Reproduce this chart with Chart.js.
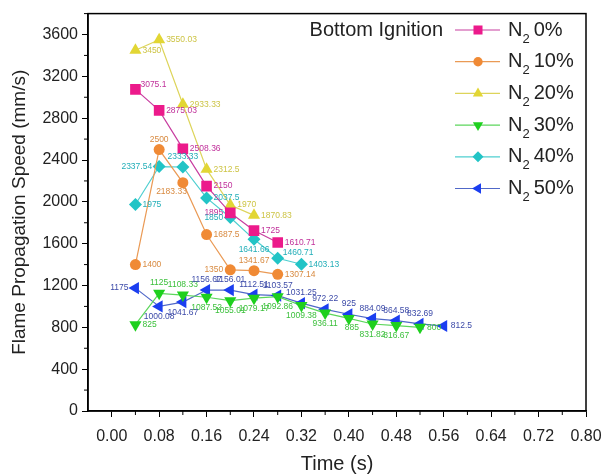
<!DOCTYPE html>
<html>
<head>
<meta charset="utf-8">
<script src="https://cdn.jsdelivr.net/npm/chart.js@4"></script>
<style>
    body { margin: 0; background: #fff; }
    canvas { display: block; }
</style>
</head>
<body>
<canvas id="flameChart" width="603" height="475"></canvas>
<script>
/* ============================================
   DATA
   ============================================ */
const times = [0.04, 0.08, 0.12, 0.16, 0.20, 0.24, 0.28, 0.32, 0.36, 0.40, 0.44, 0.48, 0.52, 0.56];

const seriesNames = ['0%', '10%', '20%', '30%', '40%', '50%'];

const n2_0  = [3075.1, 2875.03, 2508.36, 2150, 1895, 1725, 1610.71];
const n2_10 = [1400, 2500, 2183.33, 1687.5, 1350, 1341.67, 1307.14];
const n2_20 = [3450, 3550.03, 2933.33, 2312.5, 1970, 1870.83];
const n2_30 = [825, 1125, 1108.33, 1087.52, 1055.01, 1079.17, 1092.86, 1009.38, 936.11, 885, 831.82, 816.67, 800];
const n2_40 = [1975, 2337.54, 2333.33, 2037.5, 1850, 1641.66, 1460.71, 1403.13];
const n2_50 = [1175, 1000.08, 1041.67, 1156.67, 1156.01, 1112.51, 1103.57, 1031.25, 972.22, 925, 884.09, 864.58, 832.69, 812.5];

const xTicks = [0, 0.08, 0.16, 0.24, 0.32, 0.40, 0.48, 0.56, 0.64, 0.72, 0.80];
const yTicks = [0, 400, 800, 1200, 1600, 2000, 2400, 2800, 3200, 3600];

const FONT = "'Liberation Sans', Arial, sans-serif";

// pair each value with its time
function toPoints(values) {
    return values.map((v, i) => ({ x: times[i], y: v }));
}

/* ============================================
   PLUGINS
   ============================================ */

// value labels next to each point (side per point: r, l, t, b, ...)
const valueLabels = {
    id: 'valueLabels',
    afterDatasetsDraw(chart) {
        const ctx = chart.ctx;
        ctx.save();
        ctx.font = `8.5px ${FONT}`;
        chart.data.datasets.forEach((ds, di) => {
            const meta = chart.getDatasetMeta(di);
            ctx.fillStyle = ds.labelColor;
            meta.data.forEach((pt, i) => {
                const side = ds.labelSide[i] || 'r';
                const text = String(ds.data[i].y);
                let x = pt.x, y = pt.y;
                if (side === 'r') { ctx.textAlign = 'left'; ctx.textBaseline = 'middle'; x += 7; }
                else if (side === 'l') { ctx.textAlign = 'right'; ctx.textBaseline = 'middle'; x -= 7; }
                else if (side === 't') { ctx.textAlign = 'center'; ctx.textBaseline = 'bottom'; y -= 6; }
                else if (side === 'b') { ctx.textAlign = 'center'; ctx.textBaseline = 'top'; y += 6; }
                else if (side === 'br') { ctx.textAlign = 'left'; ctx.textBaseline = 'top'; x -= 4; y += 5; }
                else if (side === 'bl') { ctx.textAlign = 'right'; ctx.textBaseline = 'top'; x += 4; y += 5; }
                else if (side === 'tr') { ctx.textAlign = 'left'; ctx.textBaseline = 'bottom'; x += 5; y -= 1; }
                ctx.fillText(text, x, y);
            });
        });
        ctx.restore();
    }
};

// box frame, minor ticks and the legend
const frameAndLegend = {
    id: 'frameAndLegend',
    afterDraw(chart) {
        const ctx = chart.ctx;
        const { left, right, top, bottom } = chart.chartArea;
        const xs = chart.scales.x, ys = chart.scales.y;
        ctx.save();

        // frame
        ctx.strokeStyle = '#000';
        ctx.lineWidth = 1.5;
        ctx.strokeRect(left, top, right - left, bottom - top);

        // minor ticks
        ctx.lineWidth = 1;
        ctx.beginPath();
        for (let i = 0; i < xTicks.length - 1; i++) {
            const px = xs.getPixelForValue((xTicks[i] + xTicks[i + 1]) / 2);
            ctx.moveTo(px, bottom);
            ctx.lineTo(px, bottom + 4);
        }
        for (let i = 0; i < yTicks.length - 1; i++) {
            const py = ys.getPixelForValue((yTicks[i] + yTicks[i + 1]) / 2);
            ctx.moveTo(left, py);
            ctx.lineTo(left - 4, py);
        }
        const lastY = ys.getPixelForValue(yTicks[yTicks.length - 1] + 200);
        ctx.moveTo(left, lastY);
        ctx.lineTo(left - 4, lastY);
        ctx.stroke();

        // legend
        const rowH = 31.7;
        const y0 = 30;
        ctx.textBaseline = 'middle';
        ctx.fillStyle = '#222';
        ctx.font = `20px ${FONT}`;
        ctx.textAlign = 'right';
        ctx.fillText('Bottom Ignition', 443, y0);

        chart.data.datasets.forEach((ds, i) => {
            const y = y0 + rowH * i;
            ctx.strokeStyle = ds.borderColor;
            ctx.lineWidth = 1.2;
            ctx.beginPath();
            ctx.moveTo(455, y);
            ctx.lineTo(500, y);
            ctx.stroke();
            // smaller marker in the legend
            ctx.fillStyle = ds.pointBackgroundColor;
            ctx.strokeStyle = ds.pointBackgroundColor;
            Chart.helpers.drawPoint(ctx, {
                pointStyle: ds.pointStyle,
                rotation: ds.pointRotation || 0,
                radius: ds.pointRadius * 0.85,
                borderWidth: 0
            }, 478, y);
            ctx.fillStyle = '#222';
            ctx.textAlign = 'left';
            ctx.font = `20px ${FONT}`;
            ctx.fillText('N', 508, y);
            const nw = ctx.measureText('N').width;
            ctx.font = `13px ${FONT}`;
            ctx.fillText('2', 508 + nw, y + 9);
            const sw = ctx.measureText('2').width;
            ctx.font = `20px ${FONT}`;
            ctx.fillText(seriesNames[i], 508 + nw + sw + 4, y);
        });
        ctx.restore();
    }
};

/* ============================================
   CHART
   ============================================ */
function makeSeries(label, values, color, lineColor, labelColor, style, radius, rotation, labelSide) {
    return {
        label: label,
        data: toPoints(values),
        borderColor: lineColor,
        backgroundColor: color,
        pointBackgroundColor: color,
        pointBorderColor: color,
        pointBorderWidth: 0,
        pointStyle: style,
        pointRadius: radius,
        pointHoverRadius: radius,
        pointRotation: rotation,
        borderWidth: 1.2,
        labelColor: labelColor,
        labelSide: labelSide
    };
}

const datasets = [
    makeSeries('N2 0%', n2_0, '#ec1a8b', '#c83ea0', '#c0309a', 'rect', 7.5, 0,
        ['tr', 'r', 'r', 'r', 'l', 'r', 'r']),
    makeSeries('N2 10%', n2_10, '#f08a35', '#ea9a55', '#d88a40', 'circle', 5.5, 0,
        ['r', 't', 'bl', 'r', 'l', 't', 'r']),
    makeSeries('N2 20%', n2_20, '#e2d634', '#ddd45a', '#cdc445', 'triangle', 7, 0,
        ['r', 'r', 'r', 'r', 'r', 'r']),
    makeSeries('N2 30%', n2_30, '#1ed01e', '#5cd65c', '#3cc03c', 'triangle', 7, 180,
        ['r', 't', 't', 'b', 'b', 'b', 'b', 'b', 'b', 'br', 'b', 'b', 'r']),
    makeSeries('N2 40%', n2_40, '#22c4c6', '#4fcfd0', '#22aeb8', 'rectRot', 6.5, 0,
        ['r', 'l', 't', 'r', 'l', 'b', 'tr', 'r']),
    makeSeries('N2 50%', n2_50, '#1b3ef0', '#5068c8', '#3c4aa8', 'triangle', 7, 270,
        ['l', 'b', 'b', 't', 't', 't', 't', 't', 't', 't', 't', 't', 't', 'r'])
];

new Chart(document.getElementById('flameChart'), {
    type: 'line',
    data: { datasets: datasets },
    options: {
        responsive: false,
        animation: false,
        events: [],
        layout: { padding: { top: 10, right: 17, left: 0, bottom: 0 } },
        plugins: {
            legend: { display: false },
            tooltip: { enabled: false }
        },
        scales: {
            x: {
                type: 'linear',
                min: -0.04,
                max: 0.80,
                afterBuildTicks: scale => { scale.ticks = xTicks.map(v => ({ value: v })); },
                afterFit: scale => {
                    scale.height = 64;
                    scale.paddingLeft = 0;
                    scale.paddingRight = 0;
                },
                ticks: {
                    color: '#222',
                    font: { family: FONT, size: 16 },
                    padding: 10,
                    maxRotation: 0,
                    autoSkip: false,
                    callback: v => v.toFixed(2)
                },
                grid: { drawOnChartArea: false, drawTicks: true, tickLength: 6, color: '#000', lineWidth: 1 },
                border: { display: true, color: '#000', width: 1.5 },
                title: {
                    display: true,
                    text: 'Time (s)',
                    color: '#222',
                    font: { family: FONT, size: 20 },
                    padding: { top: 0, bottom: -1 }
                }
            },
            y: {
                type: 'linear',
                min: 0,
                max: 3800,
                afterBuildTicks: scale => { scale.ticks = yTicks.map(v => ({ value: v })); },
                afterFit: scale => { scale.width = 88; },
                ticks: {
                    color: '#222',
                    font: { family: FONT, size: 16 },
                    padding: 4,
                    autoSkip: false,
                    callback: v => String(v)
                },
                grid: { drawOnChartArea: false, drawTicks: true, tickLength: 6, color: '#000', lineWidth: 1 },
                border: { display: true, color: '#000', width: 1.5 },
                title: {
                    display: true,
                    text: 'Flame Propagation Speed (mm/s)',
                    color: '#222',
                    font: { family: FONT, size: 19 },
                    padding: { top: 8, bottom: 0 }
                }
            }
        }
    },
    plugins: [valueLabels, frameAndLegend]
});
</script>
</body>
</html>
